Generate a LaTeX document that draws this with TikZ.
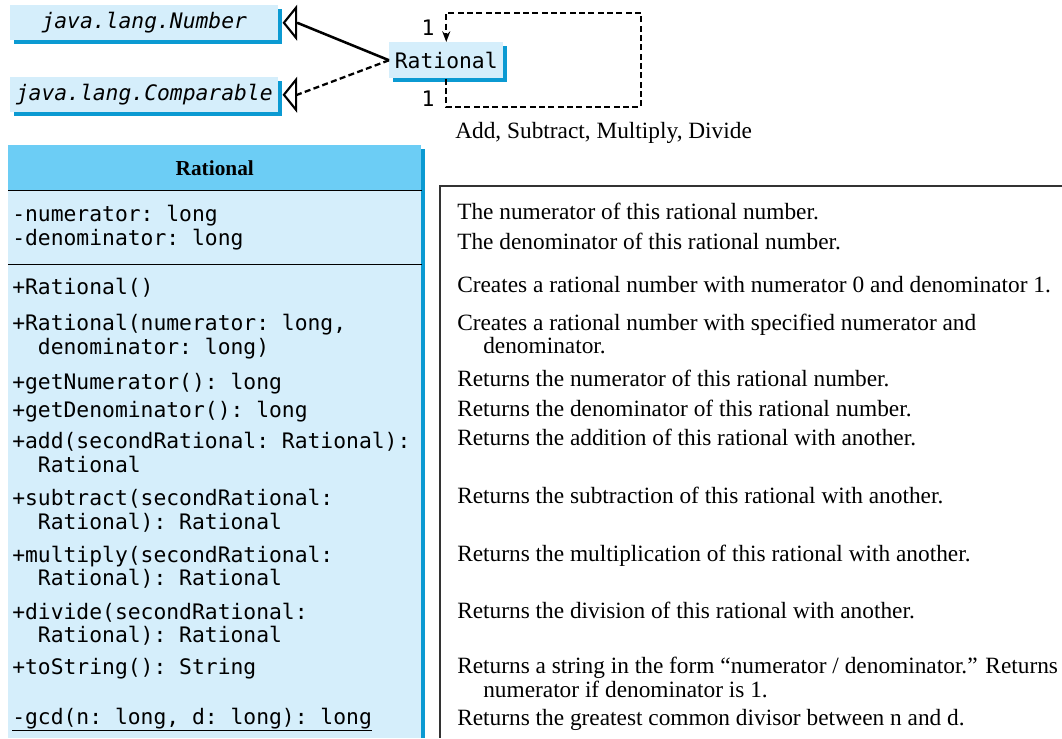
\documentclass[tikz,border=0pt]{standalone}
\usepackage{fontspec}
\setmainfont{Liberation Serif}
\setmonofont{DejaVu Sans Mono}
\usepackage{xcolor}
\usetikzlibrary{arrows.meta,positioning,shadows}
\definecolor{clsfill}{HTML}{D5EEFB}
\definecolor{clshead}{HTML}{6CCDF5}
\definecolor{clsshadow}{HTML}{0B9AD2}

\begin{document}
\begin{tikzpicture}[
  x=0.75pt, y=-0.75pt,
  mono/.style={font=\ttfamily\fontsize{16}{19}\selectfont},
  serif/.style={font=\fontsize{17.5}{21}\selectfont},
  umlbox/.style={fill=clsfill, inner sep=0pt, anchor=north west,
    drop shadow={shadow xshift=3pt, shadow yshift=-3pt, fill=clsshadow, opacity=1}},
  compart/.style={fill=clsfill, inner sep=0pt, anchor=north west, minimum width=309.75pt},
  member/.style={mono, anchor=mid west, inner sep=0pt},
  desc/.style={serif, anchor=mid west, inner sep=0pt},
  gen/.style={line width=1.9pt},
  gentip/.style={-{Triangle[open, length=11pt, width=27pt]}, line width=1.6pt},
  realline/.style={line width=1.7pt, dash pattern=on 4.5pt off 2.5pt},
  selfloop/.style={line width=1.5pt, dash pattern=on 4.5pt off 2.5pt, -{Stealth[length=8pt, width=6pt]}}
]
\useasboundingbox (0,0) rectangle (1062,738);

% interfaces and the small class box
\node[umlbox, font=\ttfamily\itshape\fontsize{16}{19}\selectfont, minimum width=201pt, minimum height=26.25pt] (number) at (10,5) {java.lang.Number};
\node[umlbox, font=\ttfamily\itshape\fontsize{16}{19}\selectfont, minimum width=201pt, minimum height=26.25pt] (comparable) at (10,77) {java.lang.Comparable};
\node[umlbox, mono, minimum width=85.5pt, minimum height=27pt] (rational) at (389,42) {Rational};

\draw[gen] (rational.west) -- ([xshift=14pt]number.east);
\draw[gentip] ([xshift=14pt]number.east) -- ([xshift=3pt]number.east);
\draw[realline] (rational.west) -- ([xshift=14pt]comparable.east);
\draw[gentip] ([xshift=14pt]comparable.east) -- ([xshift=3pt]comparable.east);

% self association
\coordinate (loopse) at (641,107);
\coordinate (loopne) at (641,13);
\draw[selfloop] (rational.south) |- (loopse) -- (loopne) -| (rational.north);
\node[mono] (multtop) at (428,28) {1};
\node[mono] (multbot) at (428,99) {1};
\node[desc] (ops) at (455,135) {Add, Subtract, Multiply, Divide};

% class box
\fill[clsshadow] (12,149) rectangle (425,738);
\node[compart, fill=clshead, minimum height=33.75pt, font=\bfseries\fontsize{16}{19}\selectfont] (clshd) at (8,145) {Rational};
\node[compart, minimum height=55.5pt] (clsattr) at (8,190) {};
\node[compart, minimum height=355.5pt] (clsops) at (8,264) {};
\draw (clshd.south west) -- (clshd.south east);
\draw (clsattr.south west) -- (clsattr.south east);

\foreach \y/\t [count=\i] in {218/{-numerator: long}, 242/{-denominator: long}}
  \node[member] (attr\i) at (12,\y) {\t};
\foreach \y/\t [count=\i] in {
    291/{+Rational()},
    327/{+Rational(numerator: long,},
    351/{\phantom{+a}denominator: long)},
    386/{+getNumerator(): long},
    414/{+getDenominator(): long},
    445/{+add(secondRational: Rational):},
    469/{\phantom{+a}Rational},
    502/{+subtract(secondRational:},
    526/{\phantom{+a}Rational): Rational},
    559/{+multiply(secondRational:},
    582/{\phantom{+a}Rational): Rational},
    616/{+divide(secondRational:},
    639/{\phantom{+a}Rational): Rational},
    671/{+toString(): String},
    721/{\underline{-gcd(n: long, d: long): long}}}
  \node[member] (op\i) at (12,\y) {\t};

% descriptions
\draw[line width=1pt, black!80] (1062,186) -| (440,738);
\foreach \y/\t [count=\i] in {
    216/{The numerator of this rational number.},
    246/{The denominator of this rational number.},
    289/{Creates a rational number with numerator 0 and denominator 1.},
    327/{Creates a rational number with specified numerator and},
    350/{\hspace*{19.5pt}denominator.},
    383/{Returns the numerator of this rational number.},
    413/{Returns the denominator of this rational number.},
    442/{Returns the addition of this rational with another.},
    500/{Returns the subtraction of this rational with another.},
    558/{Returns the multiplication of this rational with another.},
    615/{Returns the division of this rational with another.},
    670/{Returns a string in the form “numerator / denominator.” Returns},
    694/{\hspace*{19.5pt}numerator if denominator is 1.},
    722/{Returns the greatest common divisor between n and d.}}
  \node[desc] (d\i) at (457,\y) {\t};
\end{tikzpicture}
\end{document}
